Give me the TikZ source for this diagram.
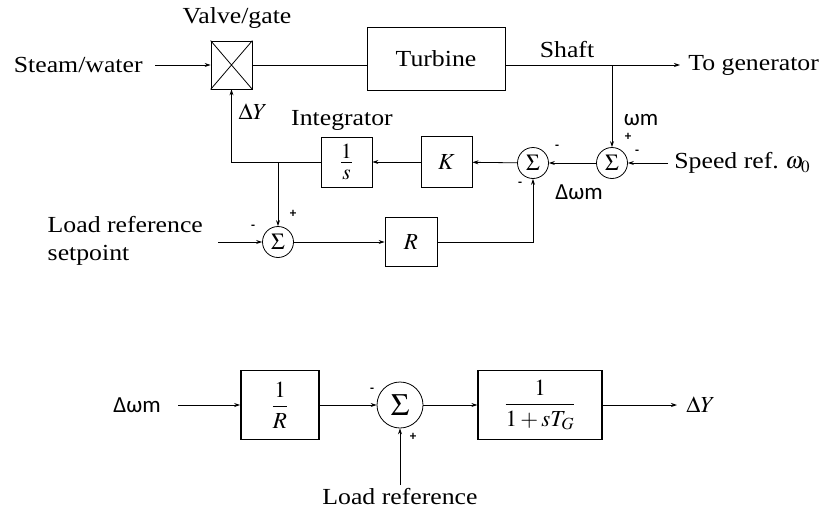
\documentclass[tikz,border=0pt]{standalone}
\usepackage{mathptmx}
\usepackage{fontspec}
\setmainfont[FakeStretch=1.12]{Liberation Serif}
\newfontfamily\calfont{Carlito}
\usetikzlibrary{arrows.meta}

\begin{document}
\begin{tikzpicture}[x=1pt,y=-1pt,line width=0.8pt,
  >={Stealth[length=6pt,width=4pt]},
  every node/.style={font=\fontsize{23}{28}\selectfont},
  blk/.style={draw,inner sep=0pt},
  sum/.style={draw,circle,minimum size=31pt,inner sep=0pt,font=\fontsize{23}{23}\selectfont},
  sign/.style={inner sep=0pt,font=\calfont\bfseries\fontsize{13}{13}\selectfont},
  omega/.style={font=\calfont\fontsize{23}{23}\selectfont}]
  \useasboundingbox (0,0) rectangle (830,514);
  % plant and governor loop
  \node[anchor=east,inner xsep=12pt] (steam) at (155,65) {Steam/water};
  \node[blk,minimum width=41pt,minimum height=48pt] (valve) at (231.5,65) {};
  \draw (valve.north west) -- (valve.south east) (valve.north east) -- (valve.south west);
  \node (vlbl) at (237,18) {Valve/gate};
  \draw[->] (steam) -- (valve);
  \node[blk,minimum width=138pt,minimum height=63pt] (turb) at (436,58.5) {Turbine};
  \draw (valve.east) -- (turb.west |- valve.east);
  \coordinate (shaftpt) at (612,65);
  \node[anchor=west,inner xsep=8pt] (gen) at (680,65) {To generator};
  \draw[->] (turb.east |- shaftpt) -- (gen.west);
  \node (shaft) at (567,50) {Shaft};
  \node[sum] (s2) at (612,163) {$\Sigma$};
  \node[sum] (s1) at (533,163) {$\Sigma$};
  \draw[->] (shaftpt) -- (s2);
  \node[anchor=west,inner xsep=6pt] (ref) at (668,163) {Speed ref.\ $\omega_0$};
  \draw[->] (ref) -- (s2);
  \draw[->] (s2) -- (s1);
  \node[blk,minimum size=51pt] (gain) at (446.5,162) {$K$};
  \draw[->] (s1) -- (gain);
  \node[blk,minimum width=51pt,minimum height=50pt,font=\fontsize{29}{30}\selectfont] (integ) at (346.5,162) {$\frac{1}{s}$};
  \draw[->] (gain) -- (integ);
  \draw[->] (integ.west) -- (valve |- integ) -- (valve.south);
  \node (dy) at (253,112) {$\Delta Y$};
  \node (intlbl) at (342,120) {Integrator};
  \coordinate (br) at (278,162);
  \node[sum] (s3) at (278,242) {$\Sigma$};
  \draw[->] (br) -- (s3);
  \node[anchor=west,align=left] (lref) at (44,241) {Load reference\\setpoint};
  \coordinate (lin) at (218,242);
  \draw[->] (lin) -- (s3);
  \node[blk,minimum width=52pt,minimum height=49pt] (droop) at (411,242) {$R$};
  \draw[->] (s3) -- (droop);
  \draw[->] (droop) -- (droop -| s1) -- (s1);
  \node[omega] (wm) at (641,120) {ωm};
  \node[omega] (dwm) at (579,192) {Δωm};
  \node[sign] (p2) at (628,137) {+};
  \node[sign] (m2) at (637,152) {-};
  \node[sign] (m1a) at (557,147) {-};
  \node[sign] (m1b) at (520,184) {-};
  \node[sign] (p3) at (293,214) {+};
  \node[sign] (m3) at (253,227) {-};
  % simplified governor
  \node[omega,anchor=west,outer xsep=14pt] (dwb) at (96,405) {Δωm};
  \node[blk,line width=1.6pt,minimum width=78pt,minimum height=69pt] (inv) at (280,405) {$\displaystyle\frac{1}{R}$};
  \draw[->] (dwb) -- (inv);
  \node[sum,minimum size=46pt,font=\fontsize{31}{31}\selectfont] (s4) at (400,405) {$\Sigma$};
  \draw[->] (inv) -- (s4);
  \node[blk,line width=1.3pt,minimum width=124pt,minimum height=69pt] (gov) at (540,405) {$\displaystyle\frac{1}{1+sT_G}$};
  \draw[->] (s4) -- (gov);
  \node[anchor=west,inner xsep=9pt] (dyb) at (677,405) {$\Delta Y$};
  \draw[->] (gov) -- (dyb);
  \node (lrb) at (400,497) {Load reference};
  \draw[->] (lrb) -- (s4);
  \node[sign] (m4) at (372,390) {-};
  \node[sign] (p4) at (413,437) {+};
\end{tikzpicture}
\end{document}
